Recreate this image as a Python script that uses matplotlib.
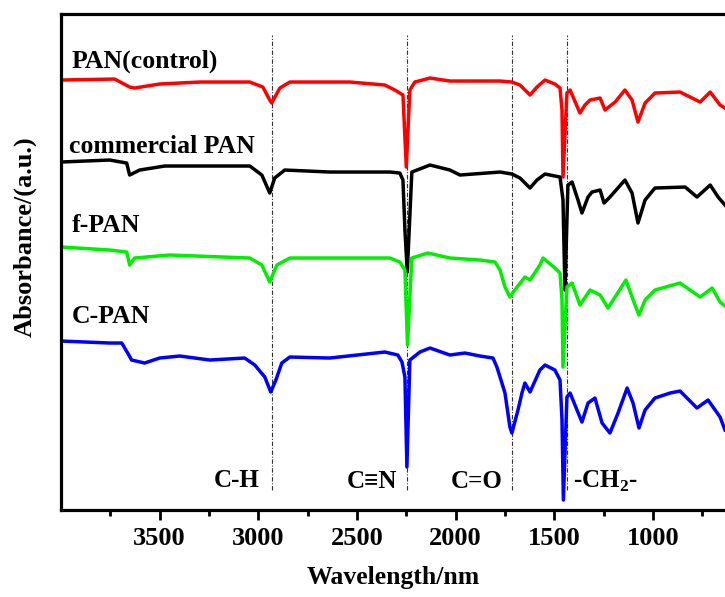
import matplotlib
matplotlib.use("Agg")
import matplotlib.pyplot as plt

plt.rcParams['font.family'] = ['Liberation Serif', 'DejaVu Serif']
plt.rcParams['font.weight'] = 'bold'
plt.rcParams['mathtext.fontset'] = 'custom'
plt.rcParams['mathtext.rm'] = 'Liberation Serif:bold'
plt.rcParams['mathtext.bf'] = 'Liberation Serif:bold'

# spectra (wavenumber, offset absorbance in a.u.)
pan_x = [4000, 3728, 3652, 3627, 3500, 3297, 3043, 2977, 2942, 2932, 2891, 2840,
         2536, 2359, 2308, 2267, 2250, 2232, 2207, 2130, 2029, 1775, 1715, 1674,
         1623, 1588, 1547, 1497, 1471, 1461, 1456, 1436, 1420, 1370, 1345, 1319,
         1268, 1243, 1192, 1142, 1106, 1076, 1040, 990, 863, 761, 710, 660, 635]
pan_y = [430, 431, 423, 422, 426, 428, 428, 423, 410, 407, 422, 428,
         428, 425, 420, 415, 343, 420, 428, 432, 429, 429, 428, 425,
         415, 423, 430, 426, 422, 400, 333, 417, 420, 397, 405, 410,
         412, 400, 408, 420, 410, 388, 407, 417, 418, 408, 418, 405, 402]

com_x = [4000, 3753, 3667, 3652, 3601, 3474, 3043, 2982, 2942, 2917, 2866, 2638,
         2333, 2283, 2267, 2257, 2245, 2222, 2130, 2029, 1978, 1775, 1715, 1674,
         1623, 1588, 1547, 1471, 1456, 1446, 1431, 1410, 1380, 1360, 1329, 1309,
         1268, 1248, 1218, 1142, 1106, 1076, 1040, 990, 837, 777, 710, 670, 635]
com_y = [348, 350, 347, 335, 340, 344, 344, 335, 317, 332, 340, 338,
         338, 337, 330, 280, 238, 338, 345, 340, 335, 338, 336, 332,
         322, 330, 336, 333, 310, 220, 325, 328, 310, 297, 313, 318,
         320, 307, 313, 330, 317, 287, 310, 322, 323, 313, 325, 313, 305]

fpan_x = [4000, 3753, 3667, 3652, 3627, 3449, 3043, 2982, 2942, 2906, 2840, 2333,
          2283, 2257, 2244, 2222, 2141, 2029, 1877, 1801, 1775, 1750, 1725, 1700,
          1649, 1623, 1573, 1557, 1497, 1471, 1461, 1456, 1436, 1410, 1370, 1319,
          1268, 1228, 1192, 1137, 1091, 1071, 1040, 990, 863, 761, 700, 660, 635]
fpan_y = [263, 260, 258, 245, 252, 255, 252, 245, 228, 245, 252, 252,
          248, 240, 165, 252, 257, 252, 250, 248, 240, 223, 213, 220,
          233, 230, 245, 252, 242, 237, 210, 143, 223, 227, 205, 220,
          215, 202, 213, 230, 205, 195, 210, 220, 227, 213, 222, 208, 204]

cpan_x = [4000, 3753, 3692, 3662, 3642, 3576, 3500, 3398, 3246, 3069, 3018, 2967,
          2937, 2911, 2881, 2840, 2638, 2359, 2293, 2272, 2257, 2247, 2232, 2181,
          2130, 2029, 1953, 1877, 1811, 1791, 1775, 1750, 1725, 1715, 1684, 1664,
          1649, 1623, 1573, 1547, 1497, 1471, 1461, 1454, 1436, 1420, 1385, 1360,
          1329, 1294, 1258, 1218, 1177, 1131, 1101, 1071, 1040, 990, 913, 863,
          777, 721, 685, 660, 635]
cpan_y = [169, 167, 167, 157, 150, 147, 152, 154, 150, 152, 145, 133,
          118, 130, 147, 153, 152, 158, 155, 148, 133, 43, 150, 158,
          162, 155, 157, 154, 152, 143, 133, 117, 83, 77, 100, 117,
          127, 118, 140, 145, 140, 130, 90, 10, 113, 117, 100, 88,
          107, 112, 87, 77, 97, 122, 107, 82, 100, 112, 117, 119,
          102, 110, 100, 93, 80]

names = ['PAN(control)', 'commercial PAN', 'f-PAN', 'C-PAN']
colors = ['#ff0000', '#000000', '#00ee00', '#0000ff']
name_pos = [(3945, 442), (3960, 357), (3945, 278), (3945, 187)]

bands = [2932, 2249, 1714, 1437]
band_labels = ['C-H', 'C\u2261N', 'C=O', r'-CH$_\mathbf{2}$-']
band_pos = [(2995, 23, 'right'), (2298, 22, 'right'), (1760, 22, 'right'), (1405, 22, 'left')]

major_ticks = [3500, 3000, 2500, 2000, 1500, 1000]
minor_ticks = [3750, 3250, 2750, 2250, 1750, 1250, 750]

fig = plt.figure(figsize=(7.25, 5.97), dpi=100)
ax = fig.add_axes([0.0841, 0.1457, 0.9159, 0.8308])

for xs, ys, c in zip([pan_x, com_x, fpan_x, cpan_x], [pan_y, com_y, fpan_y, cpan_y], colors):
    ax.plot(xs, ys, color=c, lw=2.5, solid_joinstyle='round')

ax.vlines(bands, 20, 475, colors='#333333', lw=0.8, linestyles=(0, (4, 1.5, 1, 1.5)), zorder=0)

for n, (x, y) in zip(names, name_pos):
    ax.text(x, y, n, fontsize=18.5, fontweight='bold', ha='left', va='baseline')
for lab, (x, y, ha) in zip(band_labels, band_pos):
    ax.text(x, y, lab, fontsize=18, fontweight='bold', ha=ha, va='baseline')

ax.set_xlim(4000, 635)
ax.set_ylim(0, 496)
ax.set_xticks(major_ticks)
ax.set_xticks(minor_ticks, minor=True)
ax.set_yticks([])
ax.tick_params(axis='x', which='major', direction='out', length=7, width=2, pad=5, labelsize=19)
ax.tick_params(axis='x', which='minor', direction='out', length=4, width=2)
for lbl in ax.get_xticklabels():
    lbl.set_fontweight('bold')
for s in ['left', 'bottom', 'top']:
    ax.spines[s].set_linewidth(2.3)
ax.spines['right'].set_visible(False)

ax.set_xlabel('Wavelength/nm', fontsize=18.5, fontweight='bold', labelpad=12)
ax.set_ylabel('Absorbance/(a.u.)', fontsize=19, fontweight='bold')
ax.yaxis.set_label_coords(-0.037, 0.552)

fig.savefig('out.png', dpi=100)
